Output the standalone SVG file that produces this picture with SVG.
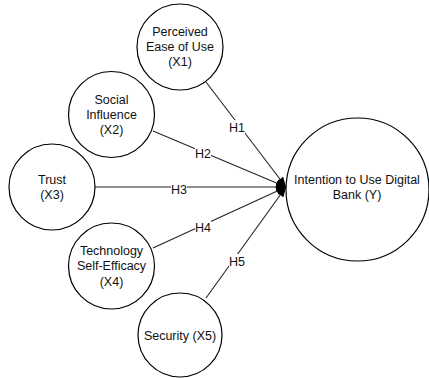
<svg xmlns="http://www.w3.org/2000/svg" width="429" height="378" viewBox="0 0 429 378">
<style>
.n{fill:#fff;stroke:#000;stroke-width:1.2}
.t{font-family:"Liberation Sans",Arial,sans-serif;font-size:12.5px;fill:#111;text-anchor:middle}
.e{stroke:#222;stroke-width:1.1;fill:none;marker-end:url(#a)}
.lb{fill:#fff}
</style>
<defs>
<marker id="a" viewBox="0 0 10 8" refX="10" refY="4" markerWidth="10" markerHeight="8" markerUnits="userSpaceOnUse" orient="auto">
<path d="M0,0 L10,4 L0,8 Z" fill="#000"/>
</marker>
</defs>
<rect width="429" height="378" fill="#fff"/>
<g id="connectors">
<line class="e" x1="206" y1="82" x2="286" y2="187"/>
<line class="e" x1="153" y1="131" x2="286" y2="187"/>
<line class="e" x1="95" y1="187" x2="286" y2="187"/>
<line class="e" x1="153" y1="248" x2="286" y2="187"/>
<line class="e" x1="206" y1="298" x2="286" y2="187"/>
<rect class="lb" x="229" y="120" width="16" height="14"/>
<text class="t" x="237" y="131.5">H1</text>
<rect class="lb" x="195" y="147" width="16" height="13"/>
<text class="t" x="203" y="157.5">H2</text>
<rect class="lb" x="171" y="184" width="16" height="12"/>
<text class="t" x="179" y="194">H3</text>
<rect class="lb" x="195" y="221" width="16" height="13"/>
<text class="t" x="203" y="232">H4</text>
<rect class="lb" x="229" y="254" width="16" height="14"/>
<text class="t" x="237" y="265.5">H5</text>
</g>
<g id="x1">
<circle class="n" cx="180" cy="47" r="43"/>
<text class="t" x="180" y="36">Perceived</text>
<text class="t" x="180" y="51">Ease of Use</text>
<text class="t" x="180" y="66">(X1)</text>
</g>
<g id="x2">
<circle class="n" cx="111.5" cy="114.5" r="43"/>
<text class="t" x="111.5" y="103.5">Social</text>
<text class="t" x="111.5" y="118.5">Influence</text>
<text class="t" x="111.5" y="133.5">(X2)</text>
</g>
<g id="x3">
<circle class="n" cx="52" cy="187" r="43"/>
<text class="t" x="52" y="183.5">Trust</text>
<text class="t" x="52" y="199">(X3)</text>
</g>
<g id="x4">
<circle class="n" cx="111.5" cy="266" r="43"/>
<text class="t" x="111.5" y="254.5">Technology</text>
<text class="t" x="111.5" y="270">Self-Efficacy</text>
<text class="t" x="111.5" y="285.5">(X4)</text>
</g>
<g id="x5">
<circle class="n" cx="180" cy="335" r="42"/>
<text class="t" x="180" y="340">Security (X5)</text>
</g>
<g id="y">
<circle class="n" cx="357.5" cy="189.5" r="71.5"/>
<text class="t" x="357" y="183.5">Intention to Use Digital</text>
<text class="t" x="357" y="198.5">Bank (Y)</text>
</g>
</svg>
